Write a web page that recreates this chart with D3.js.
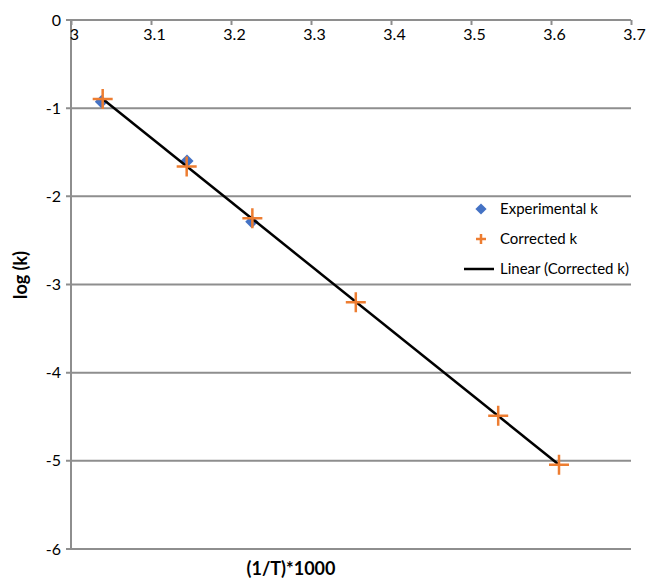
<!DOCTYPE html>
<html>
<head>
<meta charset="utf-8">
<script src="https://cdn.jsdelivr.net/npm/d3@7"></script>
<style>
  body { margin: 0; background: #fff; }
  svg { display: block; font-family: Lato, "Liberation Sans", sans-serif; }
</style>
</head>
<body>
<svg id="chart" width="646" height="579"></svg>
<script>
// values
const experimentalX = [3.038, 3.145, 3.226];
const experimentalY = [-0.926, -1.599, -2.287];
const correctedX = [3.0396, 3.1446, 3.2267, 3.356, 3.534, 3.610];
const correctedY = [-0.896, -1.663, -2.248, -3.20, -4.49, -5.045];
const xTicks = [3, 3.1, 3.2, 3.3, 3.4, 3.5, 3.6, 3.7];
const yTicks = [0, -1, -2, -3, -4, -5, -6];
const legendLabels = ["Experimental k", "Corrected k", "Linear (Corrected k)"];

const svg = d3.select("#chart");
const grid = "#8e8e8e";

const x = d3.scaleLinear().domain([3, 3.7]).range([71, 631]);
const y = d3.scaleLinear().domain([0, -6]).range([20, 549]);

// horizontal gridlines
svg.append("g").selectAll("line").data(yTicks).join("line")
  .attr("x1", x(3) - 5).attr("x2", x(3.7))
  .attr("y1", d => y(d)).attr("y2", d => y(d))
  .attr("stroke", grid).attr("stroke-width", 2);

// vertical axis line
svg.append("line")
  .attr("x1", x(3)).attr("x2", x(3))
  .attr("y1", y(0)).attr("y2", y(-6))
  .attr("stroke", grid).attr("stroke-width", 2);

// top x axis, ticks + labels under the line
const xAxis = d3.axisBottom(x).tickValues(xTicks).tickSize(5).tickFormat(d3.format("")).tickPadding(4);
const gx = svg.append("g").attr("transform", `translate(0,${y(0)})`).call(xAxis);
gx.select(".domain").remove();
gx.selectAll(".tick line").attr("stroke", grid).attr("stroke-width", 2);
gx.selectAll(".tick text").attr("font-size", 16).attr("fill", "#000")
  .attr("font-family", "Lato").attr("dx", 3);

// y labels
const yAxis = d3.axisLeft(y).tickValues(yTicks).tickSize(0).tickPadding(10).tickFormat(d3.format(""));
const gy = svg.append("g").attr("transform", `translate(${x(3)},0)`).call(yAxis);
gy.select(".domain").remove();
gy.selectAll(".tick text").attr("font-size", 16).attr("fill", "#000")
  .attr("font-family", "Lato").text(d => d === 0 ? "0" : "-" + Math.abs(d));

// axis titles
svg.append("text").attr("x", 291).attr("y", 575).attr("text-anchor", "middle")
  .attr("font-weight", "bold").attr("font-size", 18).text("(1/T)*1000");
svg.append("text").attr("transform", "translate(27,275) rotate(-90)").attr("text-anchor", "middle")
  .attr("font-weight", "bold").attr("font-size", 18).text("log (k)");

// linear fit of corrected k
const mx = d3.mean(correctedX), my = d3.mean(correctedY);
const slope = d3.sum(correctedX, (v, i) => (v - mx) * (correctedY[i] - my)) /
              d3.sum(correctedX, v => (v - mx) ** 2);
const icpt = my - slope * mx;
const xMin = d3.min(correctedX), xMax = d3.max(correctedX);

// experimental diamonds
const diamond = d3.symbol().type(d3.symbolDiamond2).size(110);
svg.append("g").selectAll("path").data(experimentalX).join("path")
  .attr("d", diamond)
  .attr("transform", (d, i) => `translate(${x(d)},${y(experimentalY[i])})`)
  .attr("fill", "#4472c4");

// trendline
svg.append("path")
  .datum([xMin, xMax])
  .attr("d", d3.line().x(d => x(d)).y(d => y(slope * d + icpt)))
  .attr("stroke", "#000").attr("stroke-width", 2.5).attr("fill", "none");

// corrected crosses
const cross = (cx, cy, r) => `M${cx - r},${cy}H${cx + r}M${cx},${cy - r}V${cy + r}`;
svg.append("g").selectAll("path").data(correctedX).join("path")
  .attr("d", (d, i) => cross(x(d), y(correctedY[i]), 10))
  .attr("stroke", "#ed7d31").attr("stroke-width", 2.5).attr("fill", "none");

// legend
const leg = svg.append("g");
const ly = [209, 239, 269];
leg.append("path").attr("d", d3.symbol().type(d3.symbolDiamond2).size(80)())
  .attr("transform", `translate(481,${ly[0]})`).attr("fill", "#4472c4");
leg.append("path").attr("d", cross(481, ly[1], 5))
  .attr("stroke", "#ed7d31").attr("stroke-width", 2.5);
leg.append("line").attr("x1", 464).attr("x2", 494).attr("y1", ly[2]).attr("y2", ly[2])
  .attr("stroke", "#000").attr("stroke-width", 2.5);
leg.selectAll("text").data(legendLabels).join("text")
  .attr("x", 500).attr("y", (d, i) => ly[i]).attr("dy", "0.35em")
  .attr("font-size", 15).text(d => d);
</script>
</body>
</html>
